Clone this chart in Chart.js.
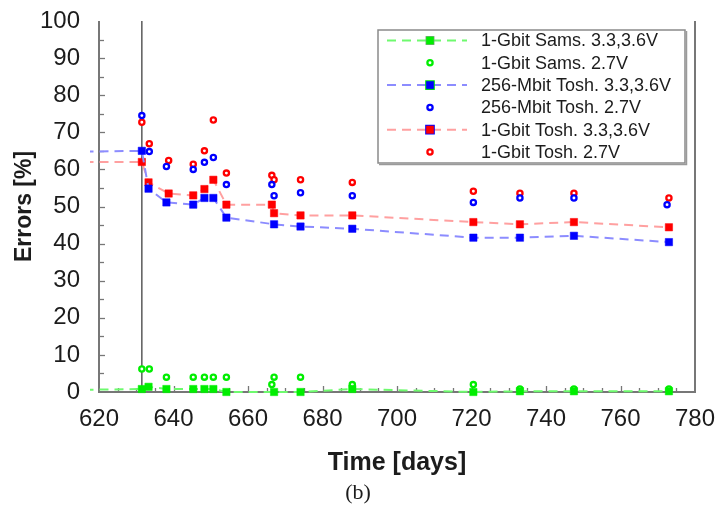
<!DOCTYPE html>
<html>
<head>
<meta charset="utf-8">
<script src="https://cdn.jsdelivr.net/npm/chart.js@4.4.1/dist/chart.umd.min.js"></script>
<style>
  html, body { margin: 0; padding: 0; background: #fff; }
  #wrap { width: 717px; height: 511px; position: relative; }
</style>
</head>
<body>
<div id="wrap"><canvas id="c" width="717" height="511"></canvas></div>
<script>
// Retention errors of NAND flash parts versus storage time

// axis ticks
const xTickValues = [620, 640, 660, 680, 700, 720, 740, 760, 780];
const yTickValues = [0, 10, 20, 30, 40, 50, 60, 70, 80, 90, 100];

// level carried over from the earlier period (line enters from the left)
const earlierDay = 600;
const samsEarlierErr = 0.4;
const mbitEarlierErr = 64.6;
const gbitEarlierErr = 62.0;

// day of the event marked by the vertical line
const eventDay = 631.5;

// 1-Gbit Samsung, 3.3 / 3.6 V
const samsHiDays = [631.5, 633.3, 638.1, 645.3, 648.3, 650.7, 654.2, 667.0, 674.1, 688.0, 720.5, 733.0, 747.5, 773.0];
const samsHiErr  = [0.8, 1.4, 0.8, 0.8, 0.8, 0.8, 0.0, 0.0, 0.0, 0.8, 0.0, 0.2, 0.2, 0.2];
// 1-Gbit Samsung, 2.7 V
const samsLoDays = [631.5, 633.5, 638.1, 645.3, 648.3, 650.7, 654.2, 666.4, 667.0, 674.1, 688.0, 720.5, 733.0, 747.5, 773.0];
const samsLoErr  = [6.2, 6.2, 4.0, 4.0, 4.0, 4.0, 4.0, 2.0, 4.0, 4.0, 2.0, 2.0, 0.8, 0.8, 0.8];

// 256-Mbit Toshiba, 3.3 / 3.6 V
const mbitHiDays = [631.5, 633.3, 638.1, 645.3, 648.3, 650.7, 654.2, 667.0, 674.1, 688.0, 720.5, 733.0, 747.5, 773.0];
const mbitHiErr  = [65.0, 54.8, 51.1, 50.5, 52.3, 52.3, 47.0, 45.2, 44.6, 44.0, 41.6, 41.6, 42.1, 40.4];
// 256-Mbit Toshiba, 2.7 V
const mbitLoDays = [631.5, 633.5, 638.1, 645.3, 648.3, 650.7, 654.2, 666.4, 667.0, 674.1, 688.0, 720.5, 733.0, 747.5, 772.5];
const mbitLoErr  = [74.5, 64.8, 60.8, 60.0, 61.9, 63.2, 55.9, 55.9, 52.9, 53.7, 52.9, 51.1, 52.3, 52.3, 50.5];

// 1-Gbit Toshiba, 3.3 / 3.6 V
const gbitHiDays = [631.5, 633.3, 638.7, 645.3, 648.3, 650.7, 654.2, 666.4, 667.0, 674.1, 688.0, 720.5, 733.0, 747.5, 773.0];
const gbitHiErr  = [62.0, 56.5, 53.5, 53.0, 54.7, 57.2, 50.5, 50.5, 48.2, 47.6, 47.6, 45.8, 45.2, 45.8, 44.4];
// 1-Gbit Toshiba, 2.7 V
const gbitLoDays = [631.5, 633.5, 638.7, 645.3, 648.3, 650.7, 654.2, 666.4, 667.0, 674.1, 688.0, 720.5, 733.0, 747.5, 773.0];
const gbitLoErr  = [72.7, 66.9, 62.4, 61.4, 65.0, 73.3, 59.0, 58.4, 57.2, 57.2, 56.5, 54.1, 53.6, 53.6, 52.3];

const GREEN = '#00ee00', GREEN_LINE = 'rgba(110,250,110,1)';
const BLUE = '#0000ff',  BLUE_LINE = 'rgba(140,140,255,1)';
const RED = '#ff0000',   RED_LINE = 'rgba(255,160,160,1)';

const pts = (days, vals) => days.map((d, i) => ({ x: d, y: vals[i] }));

function squareSeries(label, days, vals, earlier, color, lineColor) {
  return {
    label,
    data: [{ x: earlierDay, y: earlier }].concat(pts(days, vals)),
    showLine: true,
    borderColor: lineColor,
    borderWidth: 2,
    borderDash: [9, 6],
    pointStyle: 'rect',
    pointRadius: ctx => ctx.dataIndex === 0 ? 0 : 5.2,
    pointBackgroundColor: color,
    pointBorderColor: color,
    pointBorderWidth: 0.5,
    markerRadius: 5.2,
    markerColor: color,
    clip: { left: 9, top: 6, right: 6, bottom: 6 }
  };
}
function circleSeries(label, days, vals, color) {
  return {
    label,
    data: pts(days, vals),
    showLine: false,
    pointStyle: 'circle',
    pointRadius: 2.6,
    pointBackgroundColor: '#fff',
    pointBorderColor: color,
    pointBorderWidth: 2.3,
    markerRadius: 2.6,
    markerColor: color,
    clip: { left: 6, top: 6, right: 6, bottom: 6 }
  };
}

const datasets = [
  squareSeries('1-Gbit Sams. 3.3,3.6V', samsHiDays, samsHiErr, samsEarlierErr, GREEN, GREEN_LINE),
  circleSeries('1-Gbit Sams. 2.7V', samsLoDays, samsLoErr, GREEN),
  squareSeries('256-Mbit Tosh. 3.3,3.6V', mbitHiDays, mbitHiErr, mbitEarlierErr, BLUE, BLUE_LINE),
  circleSeries('256-Mbit Tosh. 2.7V', mbitLoDays, mbitLoErr, BLUE),
  squareSeries('1-Gbit Tosh. 3.3,3.6V', gbitHiDays, gbitHiErr, gbitEarlierErr, RED, RED_LINE),
  circleSeries('1-Gbit Tosh. 2.7V', gbitLoDays, gbitLoErr, RED)
];

const AXIS_COLOR = '#777';
const TEXT_COLOR = '#1c1c1c';
const SANS = '"Liberation Sans", Arial, sans-serif';

// axis lines, inward ticks and the event line
const framePlugin = {
  id: 'frame',
  beforeDatasetsDraw(chart) {
    const { ctx, chartArea: a, scales: { x, y } } = chart;
    ctx.save();
    ctx.strokeStyle = AXIS_COLOR;
    ctx.lineWidth = 1.3;
    for (let v = 625; v < 780; v += 5) {
      const px = Math.round(x.getPixelForValue(v)) + 0.5;
      const len = (v % 20 === 0) ? 6 : 4;
      ctx.beginPath(); ctx.moveTo(px, a.bottom); ctx.lineTo(px, a.bottom - len); ctx.stroke();
    }
    for (let v = 5; v < 100; v += 5) {
      const py = Math.round(y.getPixelForValue(v)) + 0.5;
      const len = (v % 10 === 0) ? 6 : 5;
      ctx.beginPath(); ctx.moveTo(a.left, py); ctx.lineTo(a.left + len, py); ctx.stroke();
    }
    // event line
    const ex = x.getPixelForValue(eventDay);
    ctx.strokeStyle = '#5a5a5a';
    ctx.lineWidth = 1.5;
    ctx.beginPath(); ctx.moveTo(ex, a.top); ctx.lineTo(ex, a.bottom); ctx.stroke();
    // axes + right border
    ctx.strokeStyle = AXIS_COLOR;
    ctx.lineWidth = 2;
    ctx.beginPath();
    ctx.moveTo(a.left, a.top); ctx.lineTo(a.left, a.bottom); ctx.lineTo(a.right, a.bottom); ctx.lineTo(a.right, a.top);
    ctx.stroke();
    ctx.restore();
  },
  afterDraw(chart) {
    const { ctx, chartArea: a } = chart;
    ctx.save();
    ctx.fillStyle = TEXT_COLOR;
    ctx.textAlign = 'center';
    ctx.textBaseline = 'middle';
    ctx.font = 'bold 25px ' + SANS;
    ctx.fillText('Time [days]', (a.left + a.right) / 2, 463);
    ctx.save();
    ctx.translate(25, (a.top + a.bottom) / 2);
    ctx.rotate(-Math.PI / 2);
    ctx.font = 'bold 23px ' + SANS;
    ctx.fillText('Errors [%]', 0, 0);
    ctx.restore();
    ctx.font = '22px "Liberation Serif", "Times New Roman", serif';
    ctx.fillText('(b)', 358, 493);
    ctx.restore();
  }
};

// boxed legend in the upper right of the plot
const boxLegendPlugin = {
  id: 'boxLegend',
  afterDatasetsDraw(chart) {
    const { ctx } = chart;
    const bx = 378, by = 30, bw = 307, bh = 133;
    ctx.save();
    ctx.fillStyle = '#fff';
    ctx.fillRect(bx, by, bw, bh);
    ctx.strokeStyle = '#8a8a8a';
    ctx.lineWidth = 1.5;
    ctx.strokeRect(bx, by, bw, bh);
    ctx.strokeStyle = '#9a9a9a';
    ctx.lineWidth = 1.5;
    ctx.beginPath(); ctx.moveTo(bx + 1, by + bh + 1.5); ctx.lineTo(bx + bw + 1.5, by + bh + 1.5); ctx.lineTo(bx + bw + 1.5, by + 1); ctx.stroke();
    chart.data.datasets.forEach((ds, i) => {
      const cy = 40.5 + i * 22.3;
      if (ds.showLine) {
        ctx.save();
        ctx.strokeStyle = ds.borderColor;
        ctx.lineWidth = 2;
        ctx.setLineDash(ds.borderDash);
        ctx.beginPath(); ctx.moveTo(387, cy); ctx.lineTo(467, cy); ctx.stroke();
        ctx.restore();
      }
      Chart.helpers.drawPoint(ctx, {
        pointStyle: ds.pointStyle,
        radius: ds.markerRadius,
        borderWidth: ds.pointBorderWidth,
        rotation: 0
      }, 430, cy);
      ctx.fillStyle = ds.pointBackgroundColor;
      ctx.strokeStyle = ds.markerColor;
      ctx.lineWidth = ds.pointBorderWidth;
      ctx.fill();
      ctx.stroke();
      ctx.fillStyle = TEXT_COLOR;
      ctx.font = '18px ' + SANS;
      ctx.textAlign = 'left';
      ctx.textBaseline = 'middle';
      ctx.fillText(ds.label, 481, cy + 1);
    });
    ctx.restore();
  }
};

new Chart(document.getElementById('c'), {
  type: 'scatter',
  data: { datasets },
  plugins: [framePlugin, boxLegendPlugin],
  options: {
    responsive: false,
    devicePixelRatio: 1,
    animation: false,
    layout: { padding: { top: 21, right: 22, left: 0, bottom: 0 } },
    plugins: { legend: { display: false }, tooltip: { enabled: false } },
    scales: {
      x: {
        type: 'linear',
        min: 620, max: 780,
        afterBuildTicks: s => { s.ticks = xTickValues.map(v => ({ value: v })); },
        afterFit: s => { s.height = 119; s.paddingLeft = 0; s.paddingRight = 0; },
        grid: { display: false, drawTicks: false },
        border: { display: false },
        ticks: { font: { family: SANS, size: 24 }, color: TEXT_COLOR, padding: 13, maxRotation: 0, autoSkip: false }
      },
      y: {
        type: 'linear',
        min: 0, max: 100,
        afterBuildTicks: s => { s.ticks = yTickValues.map(v => ({ value: v })); },
        afterFit: s => { s.width = 99; s.paddingTop = 0; s.paddingBottom = 0; },
        grid: { display: false, drawTicks: false },
        border: { display: false },
        ticks: { font: { family: SANS, size: 24 }, color: TEXT_COLOR, padding: 19 }
      }
    }
  }
});
</script>
</body>
</html>
